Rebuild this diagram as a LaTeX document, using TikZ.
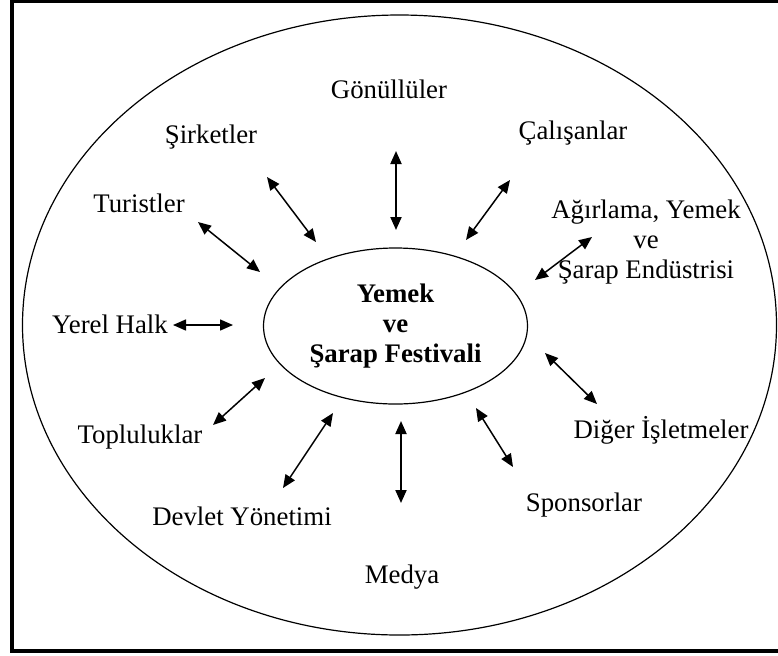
\documentclass[tikz,border=0pt]{standalone}
\usepackage{fontspec}
\setmainfont{Liberation Serif}
\usetikzlibrary{arrows.meta, shapes.geometric}
\tikzset{
  lbl/.style  = {font=\fontsize{13.4}{15}\selectfont, align=center, inner sep=0pt},
  hub/.style  = {ellipse, draw, line width=0.6pt, inner sep=0pt,
                 minimum width=132pt, minimum height=78pt, align=center,
                 font=\fontsize{13.4}{14.8}\selectfont\bfseries},
  link/.style = {{Triangle[length=6.5pt,width=5.5pt]}-{Triangle[length=6.5pt,width=5.5pt]},
                 line width=0.75pt},
}

\begin{document}
\begin{tikzpicture}[x=0.5pt, y=-0.5pt]

% ── Canvas and frame ───────────────────────────────────────────────────────
\useasboundingbox (0,0) rectangle (778,655);
\draw[line width=2pt] (12,1) rectangle (800,651);

% ── Outer ellipse ──────────────────────────────────────────────────────────
\draw[line width=0.6pt] (399.5,325) ellipse [x radius=377, y radius=310];

% ── Festival at the centre ─────────────────────────────────────────────────
\node[hub] (fest) at (395.5,326) {Yemek\\ve\\Şarap Festivali};

% ── Stakeholder labels ─────────────────────────────────────────────────────
\node[lbl] (gon) at (389,89)   {Gönüllüler};
\node[lbl] (sir) at (211,137)  {Şirketler};
\node[lbl] (cal) at (573,133)  {Çalışanlar};
\node[lbl] (tur) at (139,203)  {Turistler};
\node[lbl] (agr) at (646,242)  {Ağırlama, Yemek\\ve\\Şarap Endüstrisi};
\node[lbl] (yer) at (110,324)  {Yerel Halk};
\node[lbl] (top) at (140,437)  {Topluluklar};
\node[lbl] (dig) at (661,430)  {Diğer İşletmeler};
\node[lbl] (dev) at (242,516)  {Devlet Yönetimi};
\node[lbl] (spo) at (584,505)  {Sponsorlar};
\node[lbl] (med) at (402,577)  {Medya};

% ── Arrow end points (outer / inner) ───────────────────────────────────────
\foreach \n/\ox/\oy/\ix/\iy in {gon/396/151/396/230, sir/267/177/316/242,
    cal/510/180/466/240, tur/198/222/260/272, agr/592/237/535/280,
    yer/173/325/233/325, top/213/425/265/378, dev/283/488/333/413,
    med/401/421/401/503, spo/476/408/513/467, dig/545/353/597/404}
{
  \coordinate (\n-a) at (\ox,\oy);
  \coordinate (\n-b) at (\ix,\iy);
}

% ── Two-way links ──────────────────────────────────────────────────────────
\foreach \n in {sir,cal,tur,agr,yer,top,dev,spo,dig}
  \draw[link] (\n-a) -- (\n-b);
\foreach \n in {gon,med}
  \draw[link, line width=1pt] (\n-a) -- (\n-b);

\end{tikzpicture}
\end{document}
